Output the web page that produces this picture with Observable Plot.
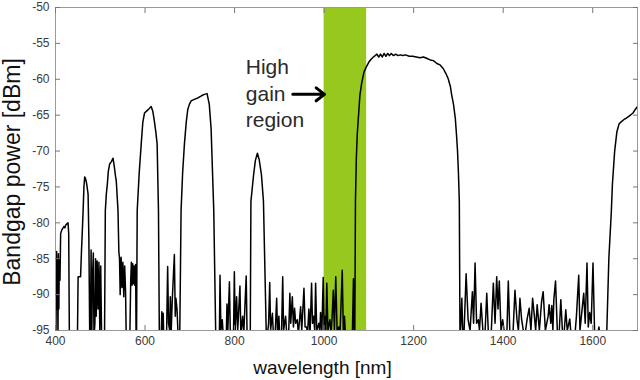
<!DOCTYPE html>
<html><head><meta charset="utf-8">
<script src="https://cdn.jsdelivr.net/npm/d3@7"></script>
<script src="https://cdn.jsdelivr.net/npm/@observablehq/plot@0.6"></script>
<style>
html,body{margin:0;padding:0;background:#fff;}
#chart svg{display:block;}
</style></head><body><div id="chart"></div>
<script>
// Spectrum: wavelength [nm] and bandgap power [dBm]
// (values below -95 dBm leave the frame and are clipped).
const wavelengthNm = [
  400, 401, 402.5, 403.5, 404.5, 405.5, 406.5, 407.5, 408.5, 410, 411.5, 414, 416, 419, 421, 423, 426, 428, 429.5, 431,
  449, 450.5, 456, 458, 460, 461.7, 463.5, 465.2, 467, 469.5, 472.8, 474.5, 476.5,
  478, 479.5, 481, 482.5, 484.5, 486, 488, 489.5, 491, 493, 495, 497, 499, 501, 503, 507,
  509.5, 511.3, 513.5, 515.8, 518, 521, 524.5, 528.4, 531, 534, 535.8, 539.6, 541.5,
  543, 544.5, 546.5, 548.5, 550.5, 552.5, 554.5, 556.5, 558, 566, 568, 569.5, 571, 572.5, 574, 575.5, 577, 579, 580,
  581, 582.5, 587, 591.5, 595, 598.8, 604, 609, 613.7, 617.5, 621, 624, 627, 630, 632,
  636, 637.5, 639, 640.5, 642, 648, 650.5, 652.5, 655, 656.5, 658.5, 661, 665.5, 667.5, 669, 671.5, 674,
  677.5, 680.5, 684, 688, 692, 695.5, 699, 703, 710, 718, 726, 732.5, 738.5, 743.5, 747.5, 753.5, 758,
  761, 766, 767.5, 769.5, 772.5, 775, 781.5, 783, 785, 788.5, 790.5, 794, 797.5, 799.5, 801.5, 804.5, 807, 812, 814, 818, 820.5, 826, 828,
  835, 836.5, 842.5, 846.5, 851, 855, 860, 864.5, 871,
  872.5, 876, 878.5, 880.5, 884.5, 887, 891, 894, 896, 899,
  901, 905, 907.5, 909.5, 914, 917, 921, 923.5, 925.5, 929,
  931.5, 934, 936.5, 940, 942.5, 947.5, 950, 955, 957.5, 961,
  963, 966, 968.5, 972, 974, 976.5, 979, 981, 983.5, 988.5,
  990.5, 992, 995, 998, 1000, 1002, 1004, 1006, 1008.5, 1013,
  1015.5, 1018, 1020.5, 1023, 1026, 1029, 1033, 1035.5, 1040.5, 1043,
  1045.5, 1048, 1063, 1065.5, 1067,
  1068.5, 1070, 1072, 1074, 1080, 1084, 1089, 1094, 1100, 1105,
  1110, 1114, 1118, 1122, 1126, 1130, 1134, 1138, 1142, 1146,
  1150, 1155, 1160, 1165, 1170, 1176, 1182, 1190, 1198, 1206,
  1214, 1222, 1230, 1237, 1244, 1252, 1259, 1266, 1272, 1277,
  1282, 1285, 1289, 1293, 1296, 1298, 1300, 1302, 1303.5,
  1305.5, 1307.6, 1310, 1312.7, 1317.2, 1321.6, 1326, 1331.2, 1333.9, 1337.2,
  1340.6, 1344.6, 1347, 1350.6, 1355.7, 1359, 1363.3, 1367.3, 1372.8, 1378,
  1381.8, 1385.5, 1388.4, 1391.3, 1395.1, 1398.9, 1404, 1408, 1411.4, 1415.2,
  1421.8, 1426.3, 1430.8, 1434, 1437.4, 1441.2, 1446.3, 1450, 1453.7, 1458.1,
  1461.9, 1465.7, 1469.7, 1472.5, 1475.9, 1480.8, 1485.7, 1489.3, 1494.2, 1500.4,
  1502.6, 1506.4, 1508.6, 1511, 1513.1, 1516.9, 1520.9, 1525, 1528.7, 1533.1,
  1536.5, 1539.8, 1543.1, 1548.7, 1552, 1559.8, 1563.6, 1568.7, 1571.5, 1574.7,
  1579.9, 1583.2, 1587.2, 1590, 1593.2, 1596.6, 1600.6, 1604.4, 1610, 1613.9,
  1616, 1630.5,
  1631, 1636, 1641.5, 1644, 1649, 1654, 1659, 1664, 1670, 1675, 1682, 1690, 1695, 1700
];
const powerDbm = [
  -84.5, -95.5, -84, -92, -85, -96, -84.3, -92, -85, -88, -81.5, -81, -80.8, -80.5, -80.7, -80.3, -80.1, -80, -81.5, -96,
  -96, -87.5, -87.5, -84, -81, -78.3, -75, -73.6, -73.8, -74.5, -76, -82, -96,
  -96, -83.8, -96, -88, -84.2, -96, -94, -85, -93, -85.3, -92, -85.5, -95, -86, -96, -96,
  -96, -78.3, -76, -74.6, -72.8, -71.8, -71.5, -71, -72, -73.5, -74.2, -78.3, -84,
  -85, -90, -84.8, -89, -85.5, -90.3, -86, -89.5, -96, -96, -88, -85.5, -88.7, -85.7, -88.5, -86, -88.7, -85.8, -96,
  -96, -78.3, -73, -69, -66, -64.7, -64.4, -64.1, -63.8, -64.5, -65.9, -67.3, -69, -78.3, -96,
  -96, -92.4, -95.5, -92.6, -96, -96, -86.1, -94, -95, -90.3, -95, -90.5, -84.4, -93, -90.5, -92.1, -96,
  -96, -78.3, -73, -69, -66, -64.2, -63.5, -63, -62.8, -62.6, -62.3, -62.1, -62, -63.5, -66.8, -78.3, -96,
  -96, -96, -87.3, -95, -93.5, -96, -96, -91.3, -95, -88.2, -95.5, -95, -96, -86.8, -95, -90.3, -95, -88.8, -95.5, -93, -95.5, -87.4, -96,
  -96, -77, -73.3, -71.3, -70.3, -71.2, -73.3, -77, -96,
  -96, -94, -88.3, -95, -92.6, -96, -95, -90.5, -95.5, -93,
  -96, -95, -87.5, -95, -93, -96, -95, -89.8, -94, -90.3,
  -94.5, -91.9, -94, -93.5, -95.5, -91.7, -95, -89.1, -94.5, -94.5,
  -95.5, -92, -95.5, -88.4, -94, -93, -95, -88.4, -95, -94,
  -95.5, -92.5, -95, -87.6, -95, -93, -95, -88.4, -95, -93.5,
  -95.5, -93, -89.4, -95, -87.5, -95, -94.5, -95.5, -86.6, -95.5,
  -93, -96, -96, -87.8, -95,
  -96, -77, -71, -67.7, -62.2, -60.5, -59, -58.3, -57.6, -57.2,
  -56.9, -56.7, -56.5, -56.9, -56.5, -56.9, -56.4, -56.8, -56.4, -56.7,
  -56.4, -56.7, -56.5, -56.7, -56.6, -56.7, -56.6, -56.8, -56.8, -56.9,
  -57.0, -56.9, -57.1, -57.3, -57.4, -57.8, -58.0, -58.5, -59.2, -59.9,
  -61, -62.2, -63.5, -65.4, -68, -70, -73, -77, -96,
  -94, -90.5, -96, -95, -87.1, -93.5, -95, -89.6, -94, -85.6,
  -94, -93.5, -95, -91.2, -96, -96, -89.8, -96, -96, -88.4,
  -94, -87.5, -92, -88.1, -95, -93.5, -96, -96, -88.1, -96,
  -95.5, -89.4, -93.5, -95, -90.5, -93.5, -95.5, -95, -93.3, -91.9,
  -95, -90.5, -93, -95, -91.4, -95, -91, -89.6, -95, -93,
  -91.4, -94, -91.5, -95, -90.7, -88.1, -95, -95.5, -90.7, -96,
  -95, -92.1, -95, -93.4, -96, -96, -93, -87.3, -95, -93,
  -89.8, -94, -85.6, -94.5, -92.5, -94, -85.6, -96, -96, -94.5,
  -96, -96,
  -96, -85, -78.5, -74.6, -70, -67.3, -66.2, -65.9, -65.6, -65.4, -65.1, -64.7, -64.2, -63.8
];

const xTicks = [400, 600, 800, 1000, 1200, 1400, 1600];
const yTicks = [-95, -90, -85, -80, -75, -70, -65, -60, -55, -50];
const xTickLabels = ["400", "600", "800", "1000", "1200", "1400", "1600"];
const yTickLabels = ["-95", "-90", "-85", "-80", "-75", "-70", "-65", "-60", "-55", "-50"];

const gainBand = [{start: 1000, end: 1095}];
const noteText = ["High\ngain\nregion"];
const noteX = [825];
const noteY = [-61.8];
const arrowFrom = [930];
const arrowTo = [1001];
const arrowY = [-62.1];

const spectrum = wavelengthNm.map((x, i) => ({x, y: powerDbm[i]}));
const notes = noteText.map((t, i) => ({t, x: noteX[i], y: noteY[i]}));
const arrows = arrowFrom.map((x1, i) => ({x1, x2: arrowTo[i], y: arrowY[i]}));

const chart = Plot.plot({
  width: 640,
  height: 380,
  marginLeft: 55,
  marginRight: 3,
  marginTop: 7,
  marginBottom: 50,
  style: {fontFamily: "'Liberation Sans', Arial, sans-serif", background: "#fff", color: "#333", fontSize: "12px"},
  x: {domain: [400, 1700]},
  y: {domain: [-95, -50]},
  marks: [
    Plot.rect(gainBand, {x1: "start", x2: "end", fill: "#96c81e"}),
    Plot.line(spectrum, {x: "x", y: "y", stroke: "#000", strokeWidth: 1.5, clip: true}),
    Plot.frame({stroke: "#9a9a9a"}),
    Plot.axisX({anchor: "bottom", ticks: xTicks, tickSize: -5, tickFormat: () => "", label: null, stroke: "#777"}),
    Plot.axisX({anchor: "top", ticks: xTicks, tickSize: -5, tickFormat: () => "", label: null, stroke: "#777"}),
    Plot.axisY({anchor: "left", ticks: yTicks, tickSize: -5, tickFormat: () => "", label: null, stroke: "#777"}),
    Plot.axisY({anchor: "right", ticks: yTicks, tickSize: -5, tickFormat: () => "", label: null, stroke: "#777"}),
    Plot.axisX({anchor: "bottom", ticks: xTicks, tickSize: 0, tickPadding: 6, label: null,
      tickFormat: d => xTickLabels[xTicks.indexOf(d)], fill: "#3a3a3a"}),
    Plot.axisY({anchor: "left", ticks: yTicks, tickSize: 0, tickPadding: 6, label: null,
      tickFormat: d => yTickLabels[yTicks.indexOf(d)], fill: "#3a3a3a"}),
    Plot.text(notes, {x: "x", y: "y", text: "t", textAnchor: "start", lineAnchor: "middle",
      lineHeight: 1.26, fontSize: 21, fill: "#2a2a2a"}),
    Plot.arrow(arrows, {x1: "x1", x2: "x2", y1: "y", y2: "y", stroke: "#000", strokeWidth: 3,
      headLength: 11, headAngle: 75}),
    Plot.text(["Bandgap power [dBm]"], {frameAnchor: "left", rotate: -90, textAnchor: "middle",
      lineAnchor: "top", dx: -52, dy: 3, fontSize: 23, fill: "#111"}),
    Plot.text(["wavelength [nm]"], {frameAnchor: "bottom", lineAnchor: "middle", dx: -24, dy: 37,
      fontSize: 19, fill: "#111"})
  ]
});
document.getElementById("chart").appendChild(chart);
</script>
</body></html>
